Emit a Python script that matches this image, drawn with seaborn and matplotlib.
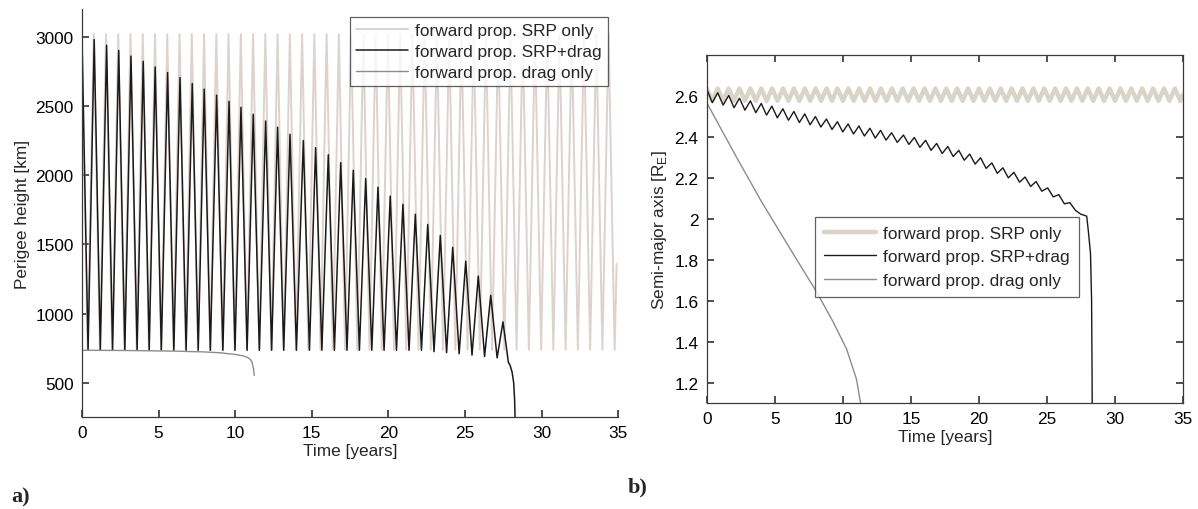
import numpy as np
import matplotlib
matplotlib.use("Agg")
import matplotlib.pyplot as plt
import seaborn as sns

# ---------------- data ----------------
# Panel a) perigee height [km], forward prop. SRP+drag
sd_peak_t = [0.80, 1.61, 2.40, 3.20, 4.00, 4.78, 5.59, 6.40, 7.20, 7.98, 8.79, 9.60,
             10.38, 11.18, 11.99, 12.77, 13.58, 14.45, 15.25, 16.08, 16.89, 17.71,
             18.52, 19.32, 20.12, 20.95, 21.76, 22.57, 23.39, 24.20, 25.05, 25.87,
             26.68, 27.48]
sd_peak_km = [2981, 2940, 2902, 2861, 2823, 2782, 2742, 2706, 2663, 2622, 2579, 2534,
              2491, 2440, 2392, 2347, 2296, 2251, 2199, 2148, 2091, 2036, 1976, 1914,
              1849, 1790, 1718, 1644, 1565, 1479, 1379, 1271, 1132, 940]
sd_trough_t = [0.40, 1.20, 2.00, 2.80, 3.60, 4.39, 5.18, 6.00, 6.80, 7.59, 8.38, 9.20,
               9.99, 10.78, 11.58, 12.38, 13.17, 14.00, 14.85, 15.66, 16.48, 17.30,
               18.11, 18.92, 19.72, 20.53, 21.35, 22.16, 22.98, 23.80, 24.62, 25.46,
               26.28, 27.10]
sd_trough_km = [735, 735, 735, 735, 735, 735, 735, 735, 735, 735, 735, 735, 735, 735,
                735, 735, 735, 735, 735, 735, 735, 735, 735, 735, 735, 735, 735, 735,
                725, 718, 710, 700, 690, 680]
sd_start_km = 3000
sd_tail_t = [27.70, 27.83, 27.95, 28.08, 28.18, 28.24, 28.28]
sd_tail_km = [760, 650, 625, 575, 500, 380, 200]

# Panel a) forward prop. SRP only
srp_peak_t = [0.77, 1.57, 2.37, 3.17, 3.97, 4.77, 5.57, 6.37, 7.17, 7.97, 8.77, 9.57,
              10.37, 11.17, 11.97, 12.77, 13.57, 14.37, 15.17, 15.97, 16.77, 17.57,
              18.37, 19.17, 19.97, 20.77, 21.57, 22.37, 23.17, 23.97, 24.77, 25.57,
              26.37, 27.17, 27.97, 28.77, 29.57, 30.37, 31.17, 31.97, 32.77, 33.57,
              34.37]
srp_trough_t = [0.37, 1.17, 1.97, 2.77, 3.57, 4.37, 5.17, 5.97, 6.77, 7.57, 8.37, 9.17,
                9.97, 10.77, 11.57, 12.37, 13.17, 13.97, 14.77, 15.57, 16.37, 17.17,
                17.97, 18.77, 19.57, 20.37, 21.17, 21.97, 22.77, 23.57, 24.37, 25.17,
                25.97, 26.77, 27.57, 28.37, 29.17, 29.97, 30.77, 31.57, 32.37, 33.17,
                33.97, 34.77]
srp_peak_km = 3020
srp_trough_km = 738
srp_end_t, srp_end_km = 34.90, 1360

# Panel a) forward prop. drag only
drag_t = [0.0, 2.0, 4.0, 6.0, 8.0, 9.0, 10.0, 10.5, 10.8, 11.0, 11.1, 11.2, 11.25]
drag_km = [735, 734, 732, 729, 723, 717, 705, 695, 684, 668, 650, 600, 553]

# Panel b) semi-major axis [R_E], forward prop. SRP+drag (same extremum times)
sd_peak_re = [2.614, 2.601, 2.588, 2.575, 2.562, 2.549, 2.536, 2.523, 2.511, 2.498,
              2.486, 2.473, 2.462, 2.452, 2.441, 2.431, 2.419, 2.408, 2.396, 2.382,
              2.367, 2.352, 2.333, 2.315, 2.297, 2.272, 2.248, 2.226, 2.203, 2.181,
              2.150, 2.117, 2.078, 2.022]
sd_trough_re = [2.566, 2.554, 2.541, 2.529, 2.517, 2.505, 2.492, 2.480, 2.469, 2.458,
                2.447, 2.435, 2.423, 2.413, 2.403, 2.393, 2.383, 2.372, 2.362, 2.348,
                2.333, 2.318, 2.303, 2.285, 2.266, 2.245, 2.221, 2.199, 2.178, 2.157,
                2.134, 2.106, 2.072, 2.040]
sd_start_re = 2.632
sd_tail_t_b = [27.92, 28.04, 28.20, 28.28, 28.31, 28.33]
sd_tail_re = [2.012, 1.940, 1.830, 1.600, 1.300, 1.050]

# Panel b) forward prop. SRP only
srpb_peak_t = [0.0, 0.8, 1.6, 2.4, 3.2, 4.0, 4.8, 5.6, 6.4, 7.2, 8.0, 8.8, 9.6, 10.4,
               11.2, 12.0, 12.8, 13.6, 14.4, 15.2, 16.0, 16.8, 17.6, 18.4, 19.2, 20.0,
               20.8, 21.6, 22.4, 23.2, 24.0, 24.8, 25.6, 26.4, 27.2, 28.0, 28.8, 29.6,
               30.4, 31.2, 32.0, 32.8, 33.6, 34.4]
srpb_trough_t = [0.4, 1.2, 2.0, 2.8, 3.6, 4.4, 5.2, 6.0, 6.8, 7.6, 8.4, 9.2, 10.0, 10.8,
                 11.6, 12.4, 13.2, 14.0, 14.8, 15.6, 16.4, 17.2, 18.0, 18.8, 19.6, 20.4,
                 21.2, 22.0, 22.8, 23.6, 24.4, 25.2, 26.0, 26.8, 27.6, 28.4, 29.2, 30.0,
                 30.8, 31.6, 32.4, 33.2, 34.0, 34.8]
srpb_peak_re = 2.635
srpb_trough_re = 2.575
srpb_end_t, srpb_end_re = 35.0, 2.605

# Panel b) forward prop. drag only
dragb_t = [0.0, 2.18, 4.0, 6.1, 8.07, 9.29, 10.27, 11.0, 11.3]
dragb_re = [2.565, 2.300, 2.085, 1.855, 1.642, 1.495, 1.364, 1.216, 1.100]

labels = ["forward prop. SRP only", "forward prop. SRP+drag", "forward prop. drag only"]
x_ticks = [0, 5, 10, 15, 20, 25, 30, 35]
ya_ticks = [500, 1000, 1500, 2000, 2500, 3000]
yb_ticks = [1.2, 1.4, 1.6, 1.8, 2.0, 2.2, 2.4, 2.6]


def zigzag(start, troughs_t, troughs_v, peaks_t, peaks_v, end=None):
    """Join read extremum points in time order."""
    pts = list(zip(troughs_t, troughs_v)) + list(zip(peaks_t, peaks_v))
    pts = [start] + sorted(pts, key=lambda p: p[0])
    if end is not None:
        pts += list(end)
    t, v = zip(*pts)
    return np.array(t), np.array(v)


# ---------------- styling ----------------
sns.set_theme(style="ticks")
plt.rcParams["font.family"] = ["Liberation Sans", "DejaVu Sans"]
plt.rcParams["axes.edgecolor"] = "#3a3a3a"
plt.rcParams["axes.linewidth"] = 0.9
plt.rcParams["xtick.color"] = "#3a3a3a"
plt.rcParams["ytick.color"] = "#3a3a3a"
plt.rcParams["xtick.labelcolor"] = "black"
plt.rcParams["ytick.labelcolor"] = "black"

c_srp_a = "#dcd2cf"
c_srp_b = "#d8d4c8"
c_sd = "#1a1a1a"
c_drag = "#8c8c8c"
FS = 12.4

fig = plt.figure(figsize=(11.98, 5.10), dpi=100)
axa = fig.add_axes([0.0684, 0.181, 0.4476, 0.799])
axb = fig.add_axes([0.590, 0.2078, 0.3975, 0.683])

# ---- panel a ----
ta, va = zigzag((0.0, srp_peak_km), srp_trough_t, [srp_trough_km] * len(srp_trough_t),
                srp_peak_t, [srp_peak_km] * len(srp_peak_t), end=[(srp_end_t, srp_end_km)])
sns.lineplot(x=ta, y=va, ax=axa, color=c_srp_a, lw=1.4, sort=False, estimator=None,
             label=labels[0])
tb, vb = zigzag((0.0, sd_start_km), sd_trough_t, sd_trough_km, sd_peak_t, sd_peak_km,
                end=list(zip(sd_tail_t, sd_tail_km)))
sns.lineplot(x=tb, y=vb, ax=axa, color=c_sd, lw=1.1, sort=False, estimator=None,
             label=labels[1])
sns.lineplot(x=drag_t, y=drag_km, ax=axa, color=c_drag, lw=1.0, sort=False,
             estimator=None, label=labels[2])
for l in axa.get_lines():
    l.set_solid_joinstyle("round")

axa.set_xlim(0, 35)
axa.set_ylim(255, 3200)
axa.set_xticks(x_ticks)
axa.set_yticks(ya_ticks)
axa.set_xlabel("Time [years]", fontsize=FS, labelpad=2)
axa.set_ylabel("Perigee height [km]", fontsize=FS, labelpad=4)
axa.tick_params(direction="in", length=5, labelsize=FS, pad=6)
sns.despine(ax=axa)
leg = axa.legend(loc="upper right", bbox_to_anchor=(0.981, 0.980), borderaxespad=0,
                 fontsize=FS, frameon=True, fancybox=False, handlelength=3.0,
                 handletextpad=0.45, labelspacing=0.33, borderpad=0.35)
leg.get_frame().set_edgecolor("#3a3a3a")
leg.get_frame().set_linewidth(0.9)

# ---- panel b ----
tc, vc = zigzag((0.0, srpb_peak_re), srpb_trough_t, [srpb_trough_re] * len(srpb_trough_t),
                srpb_peak_t[1:], [srpb_peak_re] * (len(srpb_peak_t) - 1),
                end=[(srpb_end_t, srpb_end_re)])
sns.lineplot(x=tc, y=vc, ax=axb, color=c_srp_b, lw=3.2, sort=False, estimator=None,
             label=labels[0])
td, vd = zigzag((0.0, sd_start_re), sd_trough_t, sd_trough_re, sd_peak_t, sd_peak_re,
                end=list(zip(sd_tail_t_b, sd_tail_re)))
sns.lineplot(x=td, y=vd, ax=axb, color=c_sd, lw=1.0, sort=False, estimator=None,
             label=labels[1])
sns.lineplot(x=dragb_t, y=dragb_re, ax=axb, color=c_drag, lw=1.0, sort=False,
             estimator=None, label=labels[2])
for l in axb.get_lines():
    l.set_solid_joinstyle("round")

axb.set_xlim(0, 35)
axb.set_ylim(1.1, 2.8)
axb.set_xticks(x_ticks)
axb.set_yticks(yb_ticks)
axb.set_yticklabels(["%g" % v for v in yb_ticks])
axb.set_xlabel("Time [years]", fontsize=FS, labelpad=2)
axb.set_ylabel(r"Semi-major axis [R$_\mathregular{E}$]", fontsize=FS, labelpad=4)
axb.tick_params(direction="in", length=5, labelsize=FS, pad=6, top=True, right=True)
legb = axb.legend(loc="upper left", bbox_to_anchor=(0.228, 0.534), borderaxespad=0,
                  fontsize=FS, frameon=True, fancybox=False, handlelength=3.0,
                  handletextpad=0.45, labelspacing=0.5, borderpad=0.5)
legb.get_frame().set_edgecolor("#3a3a3a")
legb.get_frame().set_linewidth(0.9)

fig.text(0.009, 0.024, "a)", fontsize=16, fontweight="bold",
         family=["Liberation Serif", "DejaVu Serif"], va="center")
fig.text(0.524, 0.045, "b)", fontsize=16, fontweight="bold",
         family=["Liberation Serif", "DejaVu Serif"], va="center")

fig.savefig("out.png", dpi=100, facecolor="white")
